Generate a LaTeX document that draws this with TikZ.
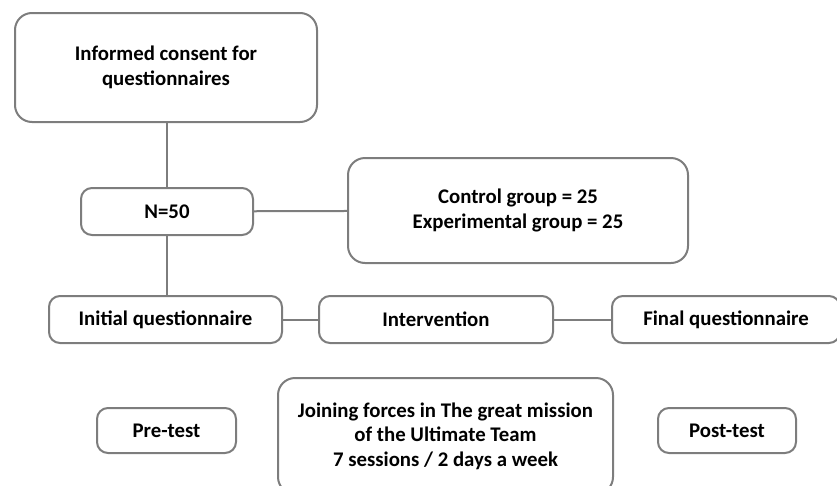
\documentclass[tikz,border=0pt]{standalone}
\usepackage{fontspec}
\setmainfont{Carlito}
\usepackage{xcolor}
\usepackage{tikz}
\usetikzlibrary{positioning}

\definecolor{boxgray}{RGB}{125,125,125}

\begin{document}
\begin{tikzpicture}[
  x=1pt, y=-1pt,
  font=\bfseries\fontsize{20.8}{24.5}\selectfont,
  box/.style={draw=boxgray, rounded corners=11pt, align=center, inner sep=0pt, fill=white, line width=2pt, minimum height=47pt},
  bigbox/.style={box, rounded corners=17pt},
  link/.style={draw=boxgray, line width=2pt}
]
\useasboundingbox (0,0) rectangle (837,485);
\clip (0,0) rectangle (837,485);
\node[bigbox, minimum width=302pt, minimum height=109pt] (consent) at (166,67.5) {Informed consent for\\questionnaires};
\node[box, minimum width=172pt] (sample) at (167,211.5) {N=50};
\node[bigbox, minimum width=340pt, minimum height=105pt] (groups) at (518,210.5) {Control group = 25\\Experimental group = 25};
\node[box, minimum width=233pt] (initial) at (165.5,319.5) {Initial questionnaire};
\node[box, minimum width=234pt] (intervention) at (436,319.5) {Intervention};
\node[box, minimum width=228pt] (final) at (726,319.5) {Final questionnaire};
\node[box, minimum width=139pt, minimum height=45pt] (pretest) at (166.5,430.5) {Pre-test};
\node[bigbox, minimum width=335pt, minimum height=116pt] (program) at (445.5,436) {Joining forces in The great mission\\of the Ultimate Team\\7 sessions / 2 days a week};
\node[box, minimum width=138pt, minimum height=45pt] (posttest) at (727,430.5) {Post-test};
\draw[link] (consent.south -| sample) -- (sample);
\draw[link] (sample) -- (groups);
\draw[link] (sample) -- (sample |- initial.north);
\draw[link] (initial) -- (intervention);
\draw[link] (intervention) -- (final);
\end{tikzpicture}
\end{document}
